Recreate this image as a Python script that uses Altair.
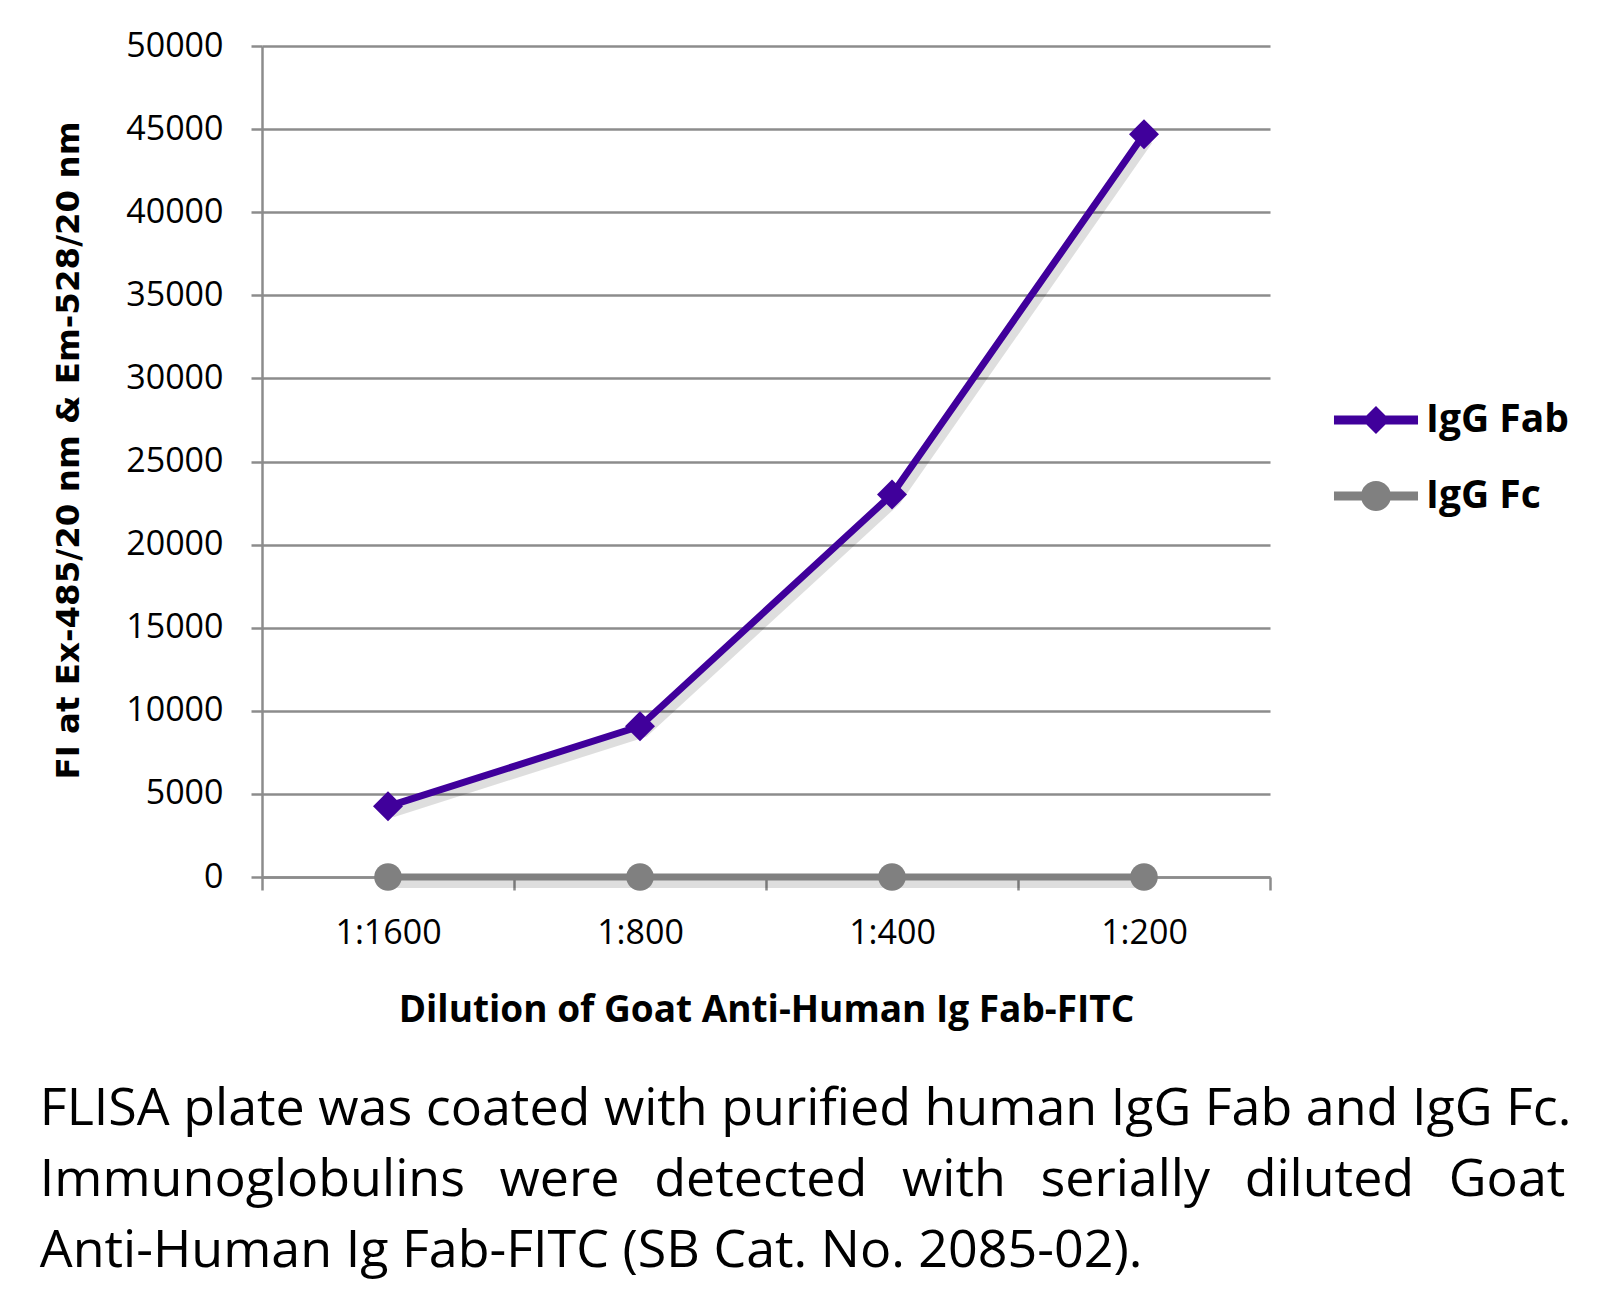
import altair as alt
import pandas as pd

dilutions = ["1:1600", "1:800", "1:400", "1:200"]
series_names = ["IgG Fab", "IgG Fc"]
fab_values = [4250, 9070, 23020, 44690]
fc_values = [0, 0, 0, 0]
series_colors = ["#40009b", "#808080"]
y_ticks = [0, 5000, 10000, 15000, 20000, 25000, 30000, 35000, 40000, 45000, 50000]
GAP = "\u2004\u2004"
caption_lines = [
    "FLISA plate was coated with purified human IgG Fab and IgG Fc.",
    GAP.join(["Immunoglobulins", "were", "detected", "with", "serially", "diluted", "Goat"]),
    "Anti-Human Ig Fab-FITC (SB Cat. No. 2085-02).",
]

rows = []
for d, v in zip(dilutions, fab_values):
    rows.append({"dilution": d, "value": v, "series": series_names[0]})
for d, v in zip(dilutions, fc_values):
    rows.append({"dilution": d, "value": v, "series": series_names[1]})
df = pd.DataFrame(rows)

GRID = "#8c8c8c"
LABEL_FONT = "Open Sans"

x_enc = alt.X(
    "dilution:N",
    sort=dilutions,
    scale=alt.Scale(type="band", paddingInner=0, paddingOuter=0),
    axis=alt.Axis(
        title="Dilution of Goat Anti-Human Ig Fab-FITC",
        titleFont=LABEL_FONT, titleFontSize=37, titleFontWeight="bold", titleColor="black",
        titlePadding=42,
        labelFont=LABEL_FONT, labelFontSize=34, labelColor="black", labelPadding=26,
        labelAngle=0,
        tickBand="extent", tickSize=13, tickColor=GRID, tickWidth=2.5,
        domainColor=GRID, domainWidth=2.5, grid=False,
    ),
)
y_enc = alt.Y(
    "value:Q",
    scale=alt.Scale(domain=[0, 50000]),
    axis=alt.Axis(
        values=y_ticks, format="d",
        title="FI at Ex-485/20 nm & Em-528/20 nm",
        titleFont="DejaVu Sans", titleFontSize=32.5, titleFontWeight="bold", titleColor="black",
        titlePadding=40, titleY=404,
        labelFont=LABEL_FONT, labelFontSize=34, labelColor="black", labelPadding=28,
        tickSize=11, tickColor=GRID, tickWidth=2.5,
        domainColor=GRID, domainWidth=2.5,
        grid=True, gridColor=GRID, gridWidth=2.5,
    ),
)
color_scale = alt.Scale(domain=series_names, range=series_colors)

base = alt.Chart(df).encode(x=x_enc, y=y_enc)

shadow = base.mark_line(strokeWidth=10, color="#000000", opacity=0.13, xOffset=4, yOffset=6).encode(
    detail="series:N"
)
lines = base.mark_line(strokeWidth=7).encode(
    color=alt.Color("series:N", scale=color_scale, legend=None)
)
points = base.mark_point(filled=True, opacity=1).encode(
    color=alt.Color("series:N", scale=color_scale, legend=None),
    shape=alt.Shape("series:N", scale=alt.Scale(domain=series_names, range=["diamond", "circle"]), legend=None),
    size=alt.Size("series:O", scale=alt.Scale(domain=series_names, range=[900, 760]), legend=None),
)

fab_path = "M-1.167,-0.125H1.167V0.125H-1.167ZM0,-0.389L0.389,0L0,0.389L-0.389,0Z"
fc_path = "M-1.167,-0.125H1.167V0.125H-1.167ZM-0.417,0A0.417,0.417 0 1,1 0.417,0A0.417,0.417 0 1,1 -0.417,0Z"

legend_def = alt.Legend(
    title=None, orient="none", legendX=1078, legendY=338,
    symbolSize=5184, symbolOpacity=1, symbolStrokeWidth=0,
    labelFont=LABEL_FONT, labelFontSize=39, labelFontWeight="bold", labelColor="black",
    labelOffset=14, rowPadding=20, padding=0,
)
legend_layer = base.mark_point(filled=True, opacity=0, size=1).encode(
    color=alt.Color("series:N", scale=color_scale, legend=legend_def),
    shape=alt.Shape("series:N", scale=alt.Scale(domain=series_names, range=[fab_path, fc_path]), legend=legend_def),
)

chart = (
    alt.layer(shadow, lines, points, legend_layer)
    .resolve_scale(color="independent", shape="independent", size="independent")
    .properties(
        width=1008,
        height=831,
        padding={"left": 31, "top": 21, "right": 5, "bottom": 5},
        title=alt.TitleParams(
            text=caption_lines, orient="bottom", anchor="start", frame="bounds",
            font=LABEL_FONT, fontSize=52, fontWeight="normal", color="black",
            lineHeight=71, offset=56, dx=-13,
        ),
    )
    .configure_view(stroke=None)
)

chart.save("out.html", embed_options={"renderer": "svg", "actions": False})
